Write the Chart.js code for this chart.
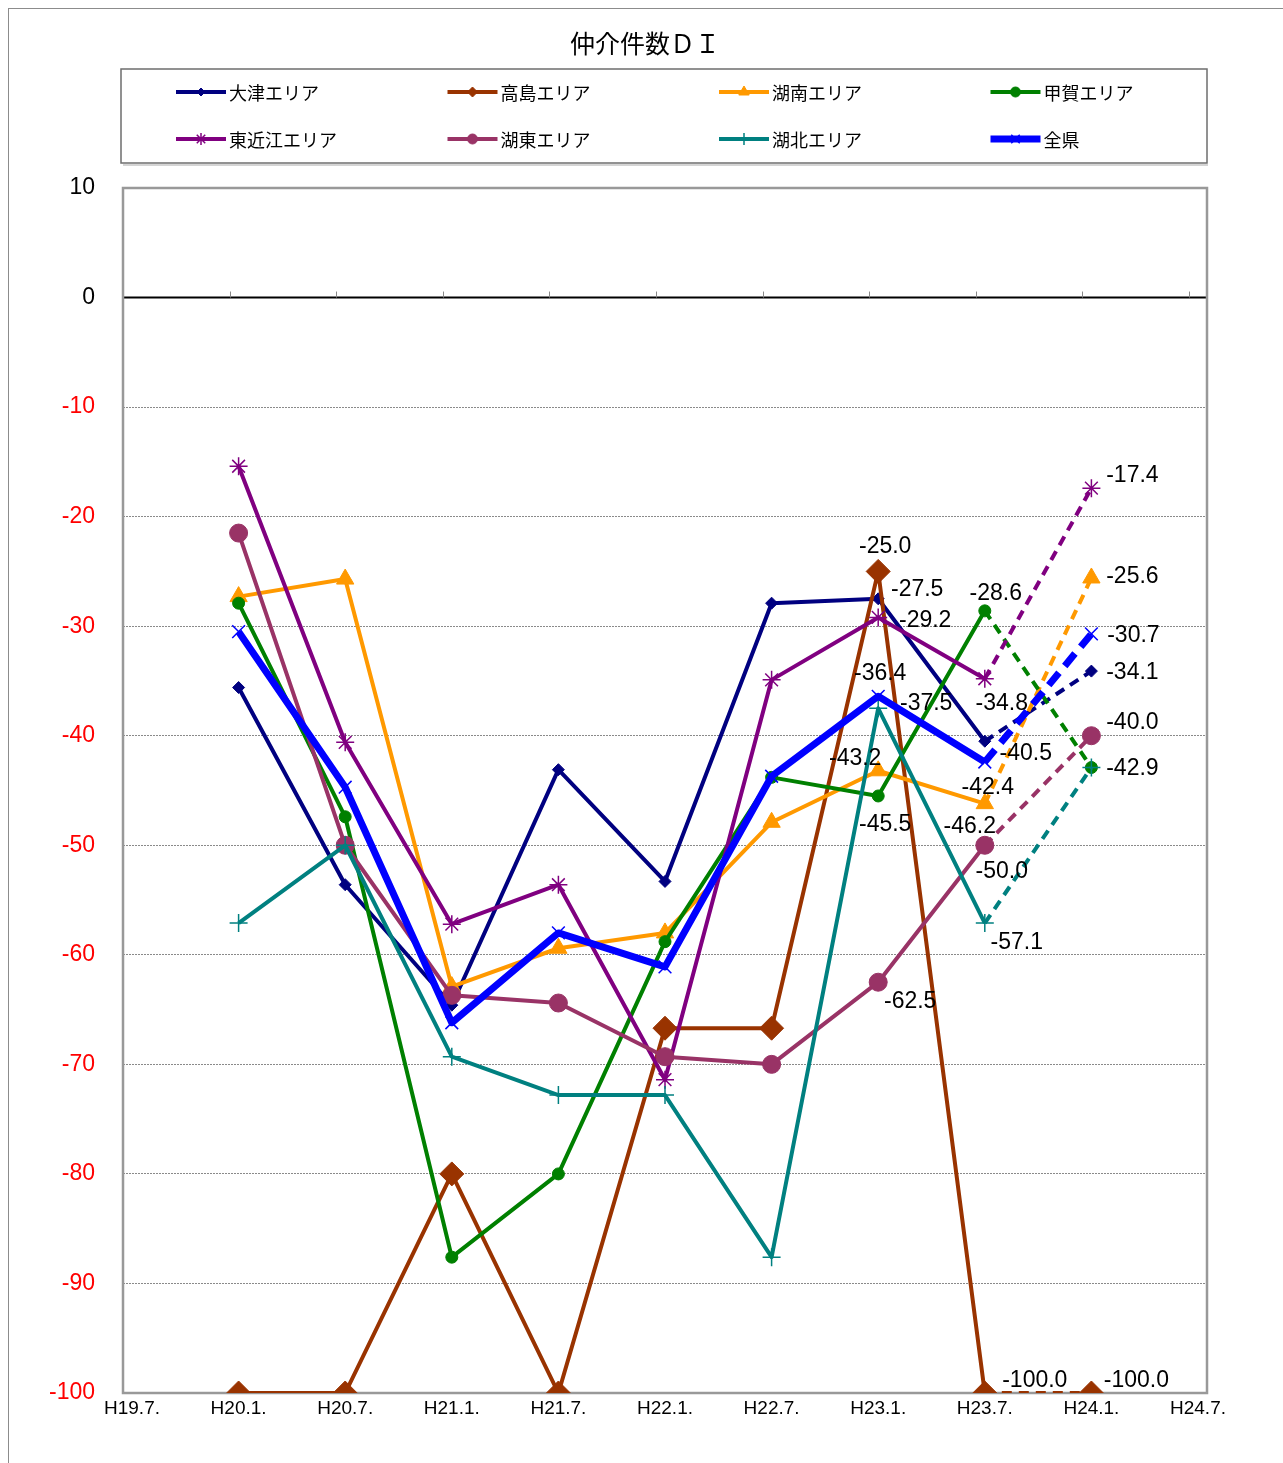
<!DOCTYPE html>
<html>
<head>
<meta charset="utf-8">
<title>仲介件数DI</title>
<style>
  html, body { margin: 0; padding: 0; background: #fff; }
  #wrap { position: relative; width: 1283px; height: 1463px; overflow: hidden; }
  #frame { position: absolute; left: 8px; top: 8px; width: 1400px; height: 1600px; border: 1px solid #8c8c8c; }
  #c { position: absolute; left: 0; top: 0; }
</style>
<script src="https://cdn.jsdelivr.net/npm/chart.js@4.4.1/dist/chart.umd.min.js"></script>
</head>
<body>
<div id="wrap">
  <div id="frame"></div>
  <canvas id="c" width="1283" height="1463"></canvas>
</div>
<script>
// x軸ラベル（H19.7.〜H24.7.）、データは H20.1. から始まる
const xLabels = ['H19.7.', 'H20.1.', 'H20.7.', 'H21.1.', 'H21.7.', 'H22.1.', 'H22.7.', 'H23.1.', 'H23.7.', 'H24.1.', 'H24.7.'];
const firstDataIndex = 1;

const chartTitle = '仲介件数ＤＩ';
const seriesNames = ['大津エリア', '高島エリア', '湖南エリア', '甲賀エリア', '東近江エリア', '湖東エリア', '湖北エリア', '全県'];

const otsu       = [-35.6, -53.6, -64.6, -43.1, -53.3, -27.9, -27.5, -40.5, -34.1];
const takashima  = [-100.0, -100.0, -80.0, -100.0, -66.7, -66.7, -25.0, -100.0, -100.0];
const konan      = [-27.3, -25.7, -62.9, -59.4, -58.0, -47.9, -43.2, -46.2, -25.6];
const koka       = [-27.9, -47.4, -87.6, -80.0, -58.8, -43.8, -45.5, -28.6, -42.9];
const higashiomi = [-15.4, -40.6, -57.2, -53.6, -71.4, -34.9, -29.2, -34.8, -17.4];
const koto       = [-21.5, -50.0, -63.7, -64.4, -69.3, -70.0, -62.5, -50.0, -40.0];
const kohoku     = [-57.1, -50.0, -69.3, -72.8, -72.8, -87.6, -37.5, -57.1, -42.9];
const zenken     = [-30.5, -44.7, -66.2, -58.0, -61.1, -43.7, -36.4, -42.4, -30.7];

const seriesValues = [otsu, takashima, konan, koka, higashiomi, koto, kohoku, zenken];

const yTicks = [10, 0, -10, -20, -30, -40, -50, -60, -70, -80, -90, -100];

// 見た目の設定
const styles = [
  { color: '#000080', width: 4, point: 'rectRot',  r: 6,  lr: 4, pw: 1 },
  { color: '#993300', width: 4, point: 'rectRot',  r: 12, lr: 5, pw: 1 },
  { color: '#FF9900', width: 4, point: 'triangle', r: 10, lr: 6, pw: 1 },
  { color: '#008000', width: 4, point: 'circle',   r: 6,  lr: 5, pw: 1 },
  { color: '#800080', width: 4, point: 'star',     r: 9,  lr: 6, pw: 1.5 },
  { color: '#993366', width: 4, point: 'circle',   r: 9,  lr: 5, pw: 1 },
  { color: '#008080', width: 4, point: 'cross',    r: 9,  lr: 6, pw: 1.5 },
  { color: '#0000FF', width: 7, point: 'crossRot', r: 9,  lr: 6, pw: 1.5 }
];

// データラベルの位置（点からのずれ、px）
const labelOffsets = [
  { 6: [39, -9],  7: [41, 12],  8: [41, 2] },
  { 6: [7, -25],  7: [50, -12], 8: [45, -12] },
  { 6: [-23, -12], 7: [-15, 23], 8: [41, -1] },
  { 6: [7, 29],   7: [11, -17], 8: [41, 1] },
  { 6: [47, 3],   7: [17, 25],  8: [41, -12] },
  { 6: [32, 19],  7: [17, 26],  8: [41, -13] },
  { 6: [48, -5],  7: [32, 20] },
  { 6: [2, -23],  7: [3, 26],   8: [42, 2] }
];

const xPad = 9 / 106.6; // 最初の目盛りと左端の間

const datasets = seriesValues.map((vals, s) => {
  const st = styles[s];
  return {
    label: seriesNames[s],
    data: vals.map((v, i) => ({ x: i + firstDataIndex, y: v })),
    borderColor: st.color,
    backgroundColor: st.color,
    borderWidth: st.width,
    borderJoinStyle: 'round',
    pointStyle: st.point,
    pointRadius: st.r,
    pointHoverRadius: st.r,
    pointBorderWidth: st.pw,
    pointBackgroundColor: st.color,
    pointBorderColor: st.color,
    order: seriesValues.length - s,
    tension: 0,
    segment: {
      borderDash: ctx => ctx.p0DataIndex === vals.length - 2 ? (st.width > 5 ? [16, 9] : [10, 7]) : undefined
    }
  };
});

const plotFrame = {
  id: 'plotFrame',
  beforeDatasetsDraw(chart) {
    const { ctx, chartArea: a, scales } = chart;
    const y0 = scales.y.getPixelForValue(0);
    ctx.save();
    // 0 の線
    ctx.strokeStyle = '#000';
    ctx.lineWidth = 2;
    ctx.beginPath();
    ctx.moveTo(a.left, y0);
    ctx.lineTo(a.right, y0);
    ctx.stroke();
    // 目盛り
    ctx.strokeStyle = '#888';
    ctx.lineWidth = 1;
    for (let k = 1; k < xLabels.length; k++) {
      const x = Math.round(scales.x.getPixelForValue(k - xPad)) + 0.5;
      ctx.beginPath();
      ctx.moveTo(x, y0 - 6);
      ctx.lineTo(x, y0);
      ctx.stroke();
    }
    // 枠
    ctx.strokeStyle = '#999';
    ctx.lineWidth = 2.5;
    ctx.strokeRect(a.left, a.top, a.right - a.left, a.bottom - a.top);
    ctx.restore();
  }
};

const valueLabels = {
  id: 'valueLabels',
  afterDatasetsDraw(chart) {
    const { ctx } = chart;
    ctx.save();
    ctx.font = '23px "Liberation Sans", Arial, sans-serif';
    ctx.fillStyle = '#000';
    ctx.textAlign = 'center';
    ctx.textBaseline = 'middle';
    chart.data.datasets.forEach((ds, s) => {
      const meta = chart.getDatasetMeta(s);
      const offs = labelOffsets[s];
      Object.keys(offs).forEach(k => {
        const i = Number(k);
        const pt = meta.data[i];
        if (!pt) return;
        ctx.fillText(ds.data[i].y.toFixed(1), pt.x + offs[k][0], pt.y + offs[k][1]);
      });
    });
    ctx.restore();
  }
};

const boxLegend = {
  id: 'boxLegend',
  afterDraw(chart) {
    const { ctx } = chart;
    // タイトル
    ctx.save();
    ctx.font = '25px "Noto Sans CJK JP", sans-serif';
    ctx.fillStyle = '#000';
    ctx.textAlign = 'center';
    ctx.textBaseline = 'middle';
    ctx.fillText(chartTitle, 645, 43);

    const box = { left: 121, top: 69, right: 1207, bottom: 163 };
    const colW = (box.right - box.left) / 4;
    const rows = [box.top + 23, box.top + 70];
    ctx.strokeStyle = '#d4d4d4';
    ctx.lineWidth = 2;
    ctx.beginPath();
    ctx.moveTo(box.left + 2, box.bottom + 2);
    ctx.lineTo(box.right + 1, box.bottom + 2);
    ctx.stroke();
    ctx.fillStyle = '#fff';
    ctx.fillRect(box.left, box.top, box.right - box.left, box.bottom - box.top);
    ctx.strokeStyle = '#6e6e6e';
    ctx.lineWidth = 1.5;
    ctx.strokeRect(box.left, box.top, box.right - box.left, box.bottom - box.top);
    ctx.font = '18px "Noto Sans CJK JP", sans-serif';
    ctx.textBaseline = 'middle';
    ctx.textAlign = 'left';
    chart.data.datasets.forEach((ds, s) => {
      const st = styles[s];
      const x = box.left + 55 + (s % 4) * colW;
      const y = rows[Math.floor(s / 4)];
      ctx.strokeStyle = st.color;
      ctx.lineWidth = st.width > 5 ? 7 : 4;
      ctx.lineCap = 'butt';
      ctx.beginPath();
      ctx.moveTo(x, y);
      ctx.lineTo(x + 50, y);
      ctx.stroke();
      ctx.fillStyle = st.color;
      ctx.lineWidth = st.pw;
      if (Chart.helpers && Chart.helpers.drawPoint) {
        Chart.helpers.drawPoint(ctx, { pointStyle: st.point, radius: st.lr, borderWidth: st.pw, rotation: 0 }, x + 25, y);
      }
      ctx.fillStyle = '#000';
      ctx.fillText(ds.label, x + 53, y + 1);
    });
    ctx.restore();
  }
};

new Chart(document.getElementById('c'), {
  type: 'line',
  data: { datasets },
  options: {
    responsive: false,
    animation: false,
    events: [],
    layout: { padding: { left: 0, right: 76, top: 188, bottom: 20 } },
    plugins: {
      legend: { display: false },
      tooltip: { enabled: false },
      title: { display: false }
    },
    scales: {
      x: {
        type: 'linear',
        min: -xPad,
        max: xLabels.length - 1 + xPad,
        afterBuildTicks: scale => { scale.ticks = xLabels.map((_, i) => ({ value: i })); },
        afterFit: scale => { scale.height = 50; },
        grid: { display: false, drawTicks: false },
        border: { display: false },
        ticks: {
          autoSkip: false,
          maxRotation: 0,
          padding: 4,
          color: '#000',
          font: { family: '"Liberation Sans Narrow", "Liberation Sans", Arial, sans-serif', size: 19 },
          callback: v => xLabels[v] !== undefined ? xLabels[v] : ''
        }
      },
      y: {
        min: yTicks[yTicks.length - 1],
        max: yTicks[0],
        afterBuildTicks: scale => { scale.ticks = yTicks.map(v => ({ value: v })); },
        afterFit: scale => { scale.width = 123; },
        grid: {
          drawTicks: false,
          color: ctx => ctx.tick && ctx.tick.value === 0 ? 'rgba(0,0,0,0)' : '#8a8a8a',
          lineWidth: 1
        },
        border: { display: false, dash: [2, 1] },
        ticks: {
          padding: 28,
          color: ctx => ctx.tick && ctx.tick.value < 0 ? '#FF0000' : '#000',
          font: { family: '"Liberation Sans", Arial, sans-serif', size: 23 },
          callback: v => String(v)
        }
      }
    }
  },
  plugins: [plotFrame, valueLabels, boxLegend]
});
</script>
</body>
</html>
